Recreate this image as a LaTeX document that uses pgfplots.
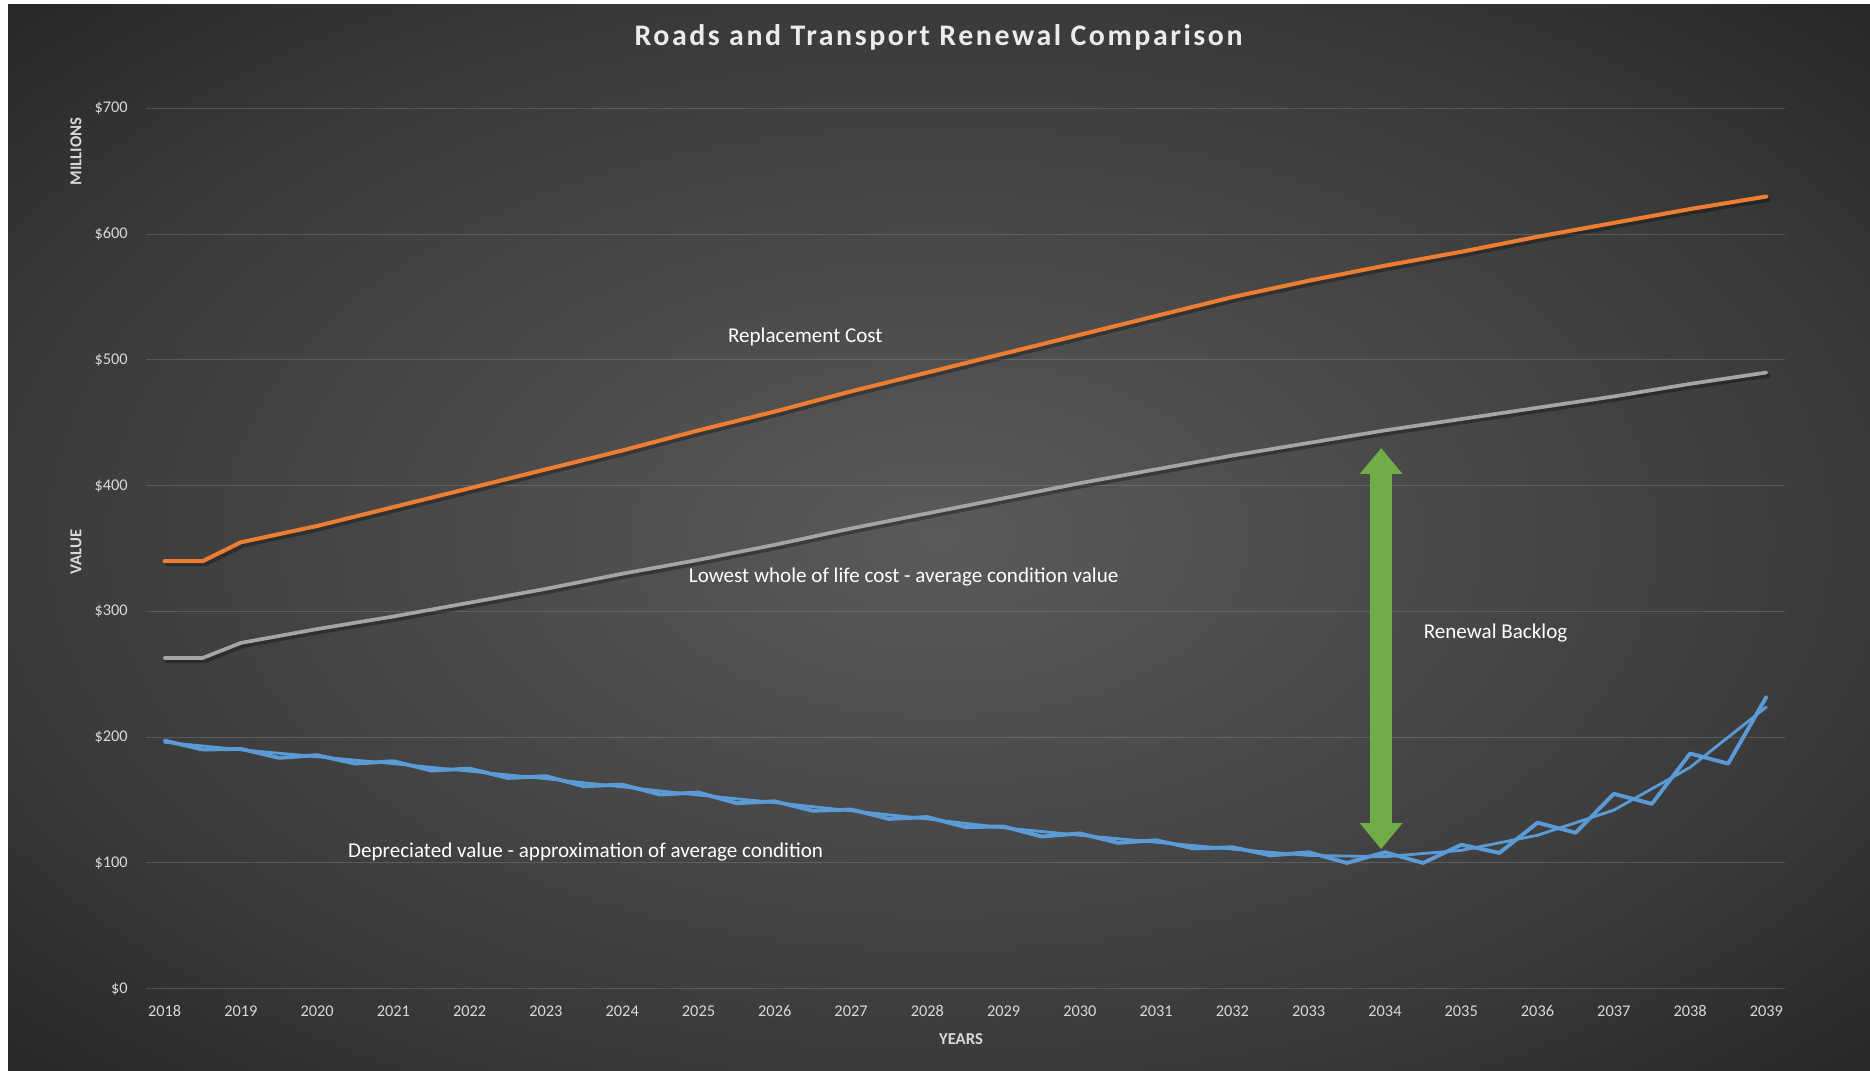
\documentclass[border=0pt]{standalone}
\usepackage{fontspec}
\setmainfont{Carlito}
\newfontfamily\titlefont[LetterSpace=8.6]{Carlito}
\usepackage{pgfplots}
\pgfplotsset{compat=1.18}
\usetikzlibrary{arrows.meta}
\definecolor{bgin}{HTML}{5A5A5A}
\definecolor{bgmid}{HTML}{3A3A3A}
\definecolor{bgout}{HTML}{262626}
\definecolor{orangeL}{HTML}{ED7D31}
\definecolor{grayL}{HTML}{A5A5A5}
\definecolor{blueL}{HTML}{5B9BD5}
\definecolor{greenA}{HTML}{70AD47}
\definecolor{txt}{HTML}{D9D9D9}
\pgfdeclareradialshading{bgshade}{\pgfpoint{0bp}{0bp}}{color(0bp)=(bgin); color(25bp)=(bgmid); color(36bp)=(bgout); color(50bp)=(bgout)}
\begin{document}
\begin{tikzpicture}
\useasboundingbox (0mm,0mm) rectangle (374mm,214.2mm);
\fill[white] (0mm,0mm) rectangle (374mm,214.2mm);
\shade[shading=bgshade] (1.6mm,0mm) rectangle (374mm,213.2mm);
\begin{axis}[
  at={(29.1mm,16.46mm)}, anchor=south west,
  scale only axis, width=327.98mm, height=176.04mm,
  xmin=2017.75, xmax=2039.25, ymin=0, ymax=700,
  xtick={2018,2019,2020,2021,2022,2023,2024,2025,2026,2027,2028,2029,2030,2031,2032,2033,2034,2035,2036,2037,2038,2039},
  xticklabels={2018,2019,2020,2021,2022,2023,2024,2025,2026,2027,2028,2029,2030,2031,2032,2033,2034,2035,2036,2037,2038,2039},
  ytick={0,100,200,300,400,500,600,700},
  yticklabel={\$\pgfmathprintnumber{\tick}},
  /pgf/number format/assume math mode=true,
  axis line style={draw=none}, major tick length=0pt,
  ymajorgrids, major grid style={draw=white, opacity=0.14, line width=0.55pt},
  tick label style={font=\fontsize{9.3}{10}\selectfont, text=txt},
  xticklabel style={anchor=center, inner sep=0pt, yshift=-4.46mm},
  yticklabel style={anchor=east, inner sep=0pt, xshift=-3.5mm},
  clip=false,
]
\addplot[black, opacity=0.3, line width=2.3pt, line cap=round, line join=round, transform canvas={xshift=0.5mm,yshift=-0.6mm}] coordinates {
(2018,263) (2018.5,263) (2019,275) (2020,286) (2021,296) (2022,307) (2023,318) (2024,330) (2025,341) (2026,353) (2027,366) (2028,378) (2029,390) (2030,402) (2031,413) (2032,424) (2033,434) (2034,444) (2035,453) (2036,462) (2037,471) (2038,481) (2039,490)};
\addplot[black, opacity=0.3, line width=2.5pt, line cap=round, line join=round, transform canvas={xshift=0.5mm,yshift=-0.6mm}] coordinates {
(2018,340) (2018.5,340) (2019,355) (2020,368) (2021,383) (2022,398) (2023,413) (2024,428) (2025,444) (2026,459) (2027,475) (2028,490) (2029,505) (2030,520) (2031,535) (2032,550) (2033,563) (2034,575) (2035,586) (2036,598) (2037,609) (2038,620) (2039,630)};
\addplot[grayL, line width=2.1pt, line cap=round, line join=round] coordinates {
(2018,263) (2018.5,263) (2019,275) (2020,286) (2021,296) (2022,307) (2023,318) (2024,330) (2025,341) (2026,353) (2027,366) (2028,378) (2029,390) (2030,402) (2031,413) (2032,424) (2033,434) (2034,444) (2035,453) (2036,462) (2037,471) (2038,481) (2039,490)};
\addplot[orangeL, line width=2.3pt, line cap=round, line join=round] coordinates {
(2018,340) (2018.5,340) (2019,355) (2020,368) (2021,383) (2022,398) (2023,413) (2024,428) (2025,444) (2026,459) (2027,475) (2028,490) (2029,505) (2030,520) (2031,535) (2032,550) (2033,563) (2034,575) (2035,586) (2036,598) (2037,609) (2038,620) (2039,630)};
\addplot[blueL, line width=1.6pt, line cap=round, line join=round] coordinates {
(2018,196) (2019,190) (2020,184.5) (2021,179) (2022,173) (2023,167) (2024,160.5) (2025,154) (2026,148) (2027,141.5) (2028,135) (2029,128) (2030,122) (2031,116.5) (2032,111) (2033,106) (2034,105) (2035,110) (2036,122) (2037,142) (2038,176) (2039,224)};
\addplot[blueL, line width=2.2pt, line cap=round, line join=round] coordinates {
(2018,197.3) (2018.5,190.2) (2019,190.7) (2019.5,183.6) (2020,185.7) (2020.5,179) (2021,180.9) (2021.5,173.5) (2022,175) (2022.5,167.6) (2023,169) (2023.5,161) (2024,162.3) (2024.5,154.4) (2025,156) (2025.5,147.5) (2026,149) (2026.5,141.5) (2027,142.5) (2027.5,135) (2028,136.5) (2028.5,128.5) (2029,129) (2029.5,121) (2030,123.5) (2030.5,116) (2031,118) (2031.5,111.5) (2032,112.5) (2032.5,106) (2033,108.5) (2033.5,100) (2034,108.5) (2034.5,100) (2035,114.5) (2035.5,108) (2036,132) (2036.5,124) (2037,155) (2037.5,147) (2038,187) (2038.5,179) (2039,232)};
\draw[greenA, line width=4.4mm, {Triangle[width=8.2mm,length=5.2mm]}-{Triangle[width=8.2mm,length=5.2mm]}] (axis cs:2033.95,111) -- (axis cs:2033.95,430);
\node[text=white, font=\fontsize{12}{14}\selectfont] at (axis cs:2026.40,518) {Replacement Cost};
\node[text=white, font=\fontsize{12}{14}\selectfont] at (axis cs:2027.69,327.5) {Lowest whole of life cost - average condition value};
\node[text=white, font=\fontsize{12}{14}\selectfont] at (axis cs:2035.45,283) {Renewal Backlog};
\node[text=white, font=\fontsize{12}{14}\selectfont] at (axis cs:2023.52,109) {Depreciated value - approximation of average condition};
\end{axis}
\node[font=\titlefont\bfseries\fontsize{17}{19}\selectfont, text=white!92!black] at (187.7mm,206.8mm) {Roads and Transport Renewal Comparison};
\node[rotate=90, font=\bfseries\fontsize{9.5}{10}\selectfont, text=txt] at (15.2mm,183.9mm) {MILLIONS};
\node[rotate=90, font=\bfseries\fontsize{9.5}{10}\selectfont, text=txt] at (15.2mm,103.8mm) {VALUE};
\node[font=\bfseries\fontsize{9.5}{10}\selectfont, text=txt] at (192.2mm,6.4mm) {YEARS};
\end{tikzpicture}
\end{document}
